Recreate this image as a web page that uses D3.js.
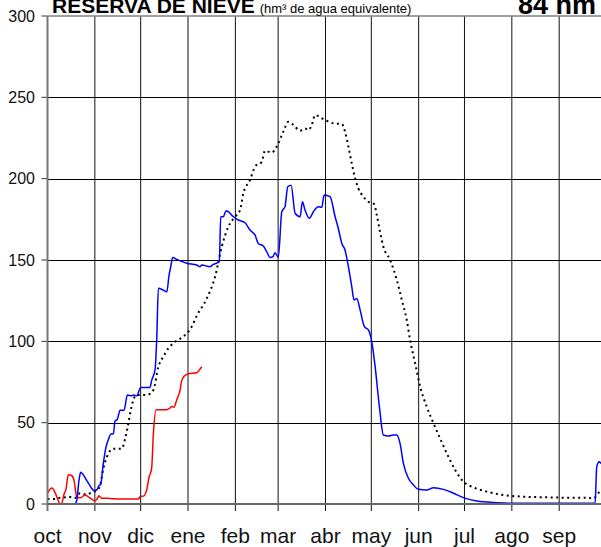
<!DOCTYPE html>
<html>
<head>
<meta charset="utf-8">
<script src="https://cdn.jsdelivr.net/npm/d3@7"></script>
<style>
  html, body { margin: 0; padding: 0; background: #fff; }
  svg { display: block; }
</style>
</head>
<body>
<div id="chart"></div>
<script>
// Months (hydrological year, Oct -> Sep) and their day counts
const months = ["oct", "nov", "dic", "ene", "feb", "mar", "abr", "may", "jun", "jul", "ago", "sep"];
const monthDays = [31, 30, 31, 31, 28, 31, 30, 31, 30, 31, 31, 30];
const yTicks = [0, 50, 100, 150, 200, 250, 300];

// Series: [day since 1 Oct, hm3]
const currentYear = [
  [0, 0], [17.7, 0], [19.1, 2], [20.6, 14.4], [21.7, 19.5], [23.4, 18], [25.7, 14.4], [27.8, 11.3],
  [30.6, 8.2], [32.2, 8.6], [33.7, 11.3], [34.8, 12], [36.5, 24.7], [38.3, 35], [39.8, 39.5],
  [41.6, 43], [43.1, 43], [44.2, 51], [45.7, 52], [47.5, 57.6], [50.1, 57.6], [52.3, 67],
  [55.1, 66.5], [56.2, 67], [58.4, 66.5], [61, 71.6], [67.1, 71.6], [68.2, 76], [70.4, 82.4],
  [71.5, 101], [72.6, 132.6], [75.8, 131.5], [78.1, 130.5], [79.6, 140.7], [80.7, 145.9],
  [82, 151.6], [84.6, 150.4], [91.2, 148], [97.7, 146.9], [99.9, 145.9], [101, 146.9],
  [106.4, 145.9], [108.6, 147.3], [112.5, 148.9], [113.4, 176.6], [115.1, 176.6], [116.9, 180.3],
  [118.4, 179.7], [121.7, 176.6], [125, 174.6], [129.3, 172.9], [132.6, 168.4], [135.9, 165.3],
  [138, 160.2], [141.3, 158.6], [143.5, 155.1], [145.7, 151.6], [147.5, 152], [149, 154.5],
  [151.1, 151.6], [153.4, 179.7], [155.5, 182.8], [157.3, 195], [159.5, 196], [162.1, 178.7],
  [165.4, 176.6], [166.9, 185.8], [168.6, 180.7], [171.4, 175.6], [174.1, 179.7], [177.3, 182.8],
  [179.6, 182.4], [181.1, 190], [185, 188.9], [188.3, 176.6], [190.4, 169.4], [192.7, 160.2],
  [194.8, 156.1], [197, 145.9], [199.2, 133.6], [200.7, 125.4], [202.5, 126.4], [204.7, 119.2],
  [207.5, 109], [210.1, 107], [212.3, 99.8], [214.5, 84.4], [217.3, 59.8], [219.9, 42.4],
  [223.2, 41.8], [226.5, 42.4], [228.7, 42.4], [230.8, 37.3], [233, 25], [236.3, 15.8],
  [239.6, 11.7], [242.8, 9], [248.3, 8.6], [252.7, 10], [259.2, 9], [265.8, 6.6], [272.3, 3.9],
  [281.1, 1.8], [294.2, 0.8], [305, 0.4], [358.5, 0.4], [359.6, 23], [361.3, 26], [362.4, 25],
  [365, 25]
];

const newYear = [
  [0, 6.6], [2.8, 9.9], [4.9, 7.2], [7.1, 2], [8.2, 0], [9.3, 0.4], [10.8, 6], [12.1, 9],
  [13.6, 18], [15.8, 17.5], [17.4, 14.4], [19.1, 4.5], [21.3, 3.7], [24.6, 5.5], [27.8, 3.7],
  [31.1, 2], [32.2, 2.7], [33.7, 5], [35.5, 3.5], [38.8, 3.5], [47.5, 3], [59.5, 3], [60.6, 4.5],
  [63.2, 5], [65, 9], [66.5, 16.5], [68.2, 22], [69.3, 43], [71.1, 58], [78.1, 58], [80.2, 59],
  [81.3, 60], [82.8, 59.5], [84.6, 64], [86.8, 70], [87.9, 76], [90, 79], [92.2, 80],
  [97.7, 80.7], [99.4, 82.4], [101, 84.4]
];

const average = [
  [0, 3.1], [4.9, 3.1], [7.1, 3.7], [11.5, 4.1], [13.6, 4.5], [18, 3.7], [21.3, 6.6], [25.7, 5.8],
  [28.9, 7.2], [32.2, 8.2], [34.4, 11.3], [36.5, 21.6], [38.8, 28.8], [43.1, 34], [48.6, 34],
  [50.8, 40], [52.9, 49.4], [54.5, 57.6], [55.8, 62.8], [58.4, 67], [65, 67], [69.3, 70],
  [72.6, 84.4], [75.8, 90.5], [79.1, 95.7], [82.4, 98.8], [87.9, 102.3], [92.2, 105.9],
  [94.4, 109], [97.7, 115.6], [104.3, 126.4], [109.7, 139.7], [114.1, 158.2], [118.4, 170.5],
  [122.8, 176.6], [126.1, 180.7], [128.2, 191], [132.6, 199.2], [135.9, 207.4], [140.3, 210.4],
  [142.4, 217.2], [146.8, 216], [150.1, 219.7], [154.4, 228.9], [157.7, 235], [161, 233],
  [165.4, 229.5], [168.6, 230.9], [170.8, 229.9], [173, 233], [175.2, 239.1], [179.6, 237.1],
  [182.8, 235.6], [187.2, 234], [192.7, 233.6], [194.8, 228.9], [197, 219.7], [199.2, 209.4],
  [201.4, 200.2], [203.5, 194.1], [206.8, 188.9], [210.1, 185.8], [213.8, 184.4], [215.6, 177.6],
  [217.7, 167.4], [219.9, 158.2], [224.3, 150], [228.7, 137.7], [232, 125.4], [235.2, 113.1],
  [237.4, 100.8], [240.7, 86.5], [244, 72.1], [248.3, 59.8], [252.7, 49.6], [257, 40.4],
  [261.4, 31.2], [266.9, 20.9], [272.3, 13.7], [278.8, 10.3], [287.6, 7.6], [298.5, 5.5],
  [311.6, 4.5], [326.9, 4.1], [337.8, 3.9], [351.1, 3.9], [357.5, 3.5], [361.8, 7.6], [365, 8]
];

// Layout
const WIDTH = 601, HEIGHT = 547;
const PLOT = { left: 47.5, right: 605, top: 16, bottom: 504 };
const FONT = "Liberation Sans, Arial, Helvetica, sans-serif";

const x = d3.scaleLinear().domain([0, 365]).range([PLOT.left, PLOT.right]);
const y = d3.scaleLinear().domain([0, 300]).range([PLOT.bottom, PLOT.top]);

const monthStarts = d3.cumsum([0, ...monthDays.slice(0, -1)]);

const svg = d3.select("#chart").append("svg")
  .attr("width", WIDTH)
  .attr("height", HEIGHT)
  .style("font-family", FONT);

svg.append("defs").append("clipPath").attr("id", "plot-clip")
  .append("rect")
  .attr("x", PLOT.left).attr("y", PLOT.top - 2)
  .attr("width", PLOT.right - PLOT.left).attr("height", PLOT.bottom - PLOT.top + 2);

// Horizontal grid
svg.append("g").selectAll("line")
  .data(yTicks.filter(t => t > 0 && t < 300))
  .join("line")
  .attr("x1", PLOT.left).attr("x2", PLOT.right)
  .attr("y1", d => Math.round(y(d)) + 0.5).attr("y2", d => Math.round(y(d)) + 0.5)
  .attr("stroke", "#000").attr("stroke-width", 1);

// Vertical grid at month starts
svg.append("g").selectAll("line")
  .data(monthStarts.slice(1))
  .join("line")
  .attr("x1", d => x(d)).attr("x2", d => x(d))
  .attr("y1", PLOT.top).attr("y2", PLOT.bottom + 7)
  .attr("stroke", "#111").attr("stroke-width", 1);

// Top border (300)
svg.append("line")
  .attr("x1", PLOT.left).attr("x2", PLOT.right)
  .attr("y1", y(300)).attr("y2", y(300))
  .attr("stroke", "#808080").attr("stroke-width", 1.5);

// y ticks + labels
svg.append("g").selectAll("line")
  .data(yTicks)
  .join("line")
  .attr("x1", PLOT.left - 6).attr("x2", PLOT.left)
  .attr("y1", d => y(d)).attr("y2", d => y(d))
  .attr("stroke", "#333").attr("stroke-width", 1);

svg.append("g").selectAll("text")
  .data(yTicks)
  .join("text")
  .attr("x", 35)
  .attr("y", d => y(d))
  .attr("text-anchor", "end")
  .attr("dominant-baseline", "central")
  .attr("font-size", 16)
  .attr("fill", "#111")
  .text(d => d);

// Series
const line = d3.line()
  .x(d => x(d[0]))
  .y(d => y(d[1]))
  .curve(d3.curveMonotoneX);

const series = svg.append("g").attr("clip-path", "url(#plot-clip)");

series.append("path")
  .attr("d", line(average))
  .attr("fill", "none")
  .attr("stroke", "#000")
  .attr("stroke-width", 2)
  .attr("stroke-dasharray", "2,3.5");

series.append("path")
  .attr("d", line(newYear))
  .attr("fill", "none")
  .attr("stroke", "#ff0000")
  .attr("stroke-width", 1.5)
  .attr("stroke-linejoin", "round");

series.append("path")
  .attr("d", line(currentYear))
  .attr("fill", "none")
  .attr("stroke", "#0000ff")
  .attr("stroke-width", 1.5)
  .attr("stroke-linejoin", "round");

// Axes lines
svg.append("line")
  .attr("x1", PLOT.left).attr("x2", PLOT.left)
  .attr("y1", PLOT.top).attr("y2", PLOT.bottom + 7)
  .attr("stroke", "#777").attr("stroke-width", 2);

svg.append("line")
  .attr("x1", PLOT.left).attr("x2", PLOT.right)
  .attr("y1", PLOT.bottom).attr("y2", PLOT.bottom)
  .attr("stroke", "#666").attr("stroke-width", 2);

// Month labels centred on month starts
svg.append("g").selectAll("text")
  .data(months)
  .join("text")
  .attr("x", (d, i) => x(monthStarts[i]))
  .attr("y", 543)
  .attr("text-anchor", "middle")
  .attr("font-size", 21)
  .attr("fill", "#111")
  .text(d => d);

// Title
const title = svg.append("text")
  .attr("x", 52)
  .attr("y", 12.5)
  .attr("fill", "#000");
title.append("tspan")
  .attr("font-size", 21)
  .attr("font-weight", "bold")
  .text("RESERVA DE NIEVE");
title.append("tspan")
  .attr("dx", 5)
  .attr("font-size", 13)
  .text("(hm³ de agua equivalente)");

svg.append("text")
  .attr("x", 518)
  .attr("y", 14)
  .attr("font-size", 27)
  .attr("font-weight", "bold")
  .attr("fill", "#000")
  .text("84 nm");
</script>
</body>
</html>
